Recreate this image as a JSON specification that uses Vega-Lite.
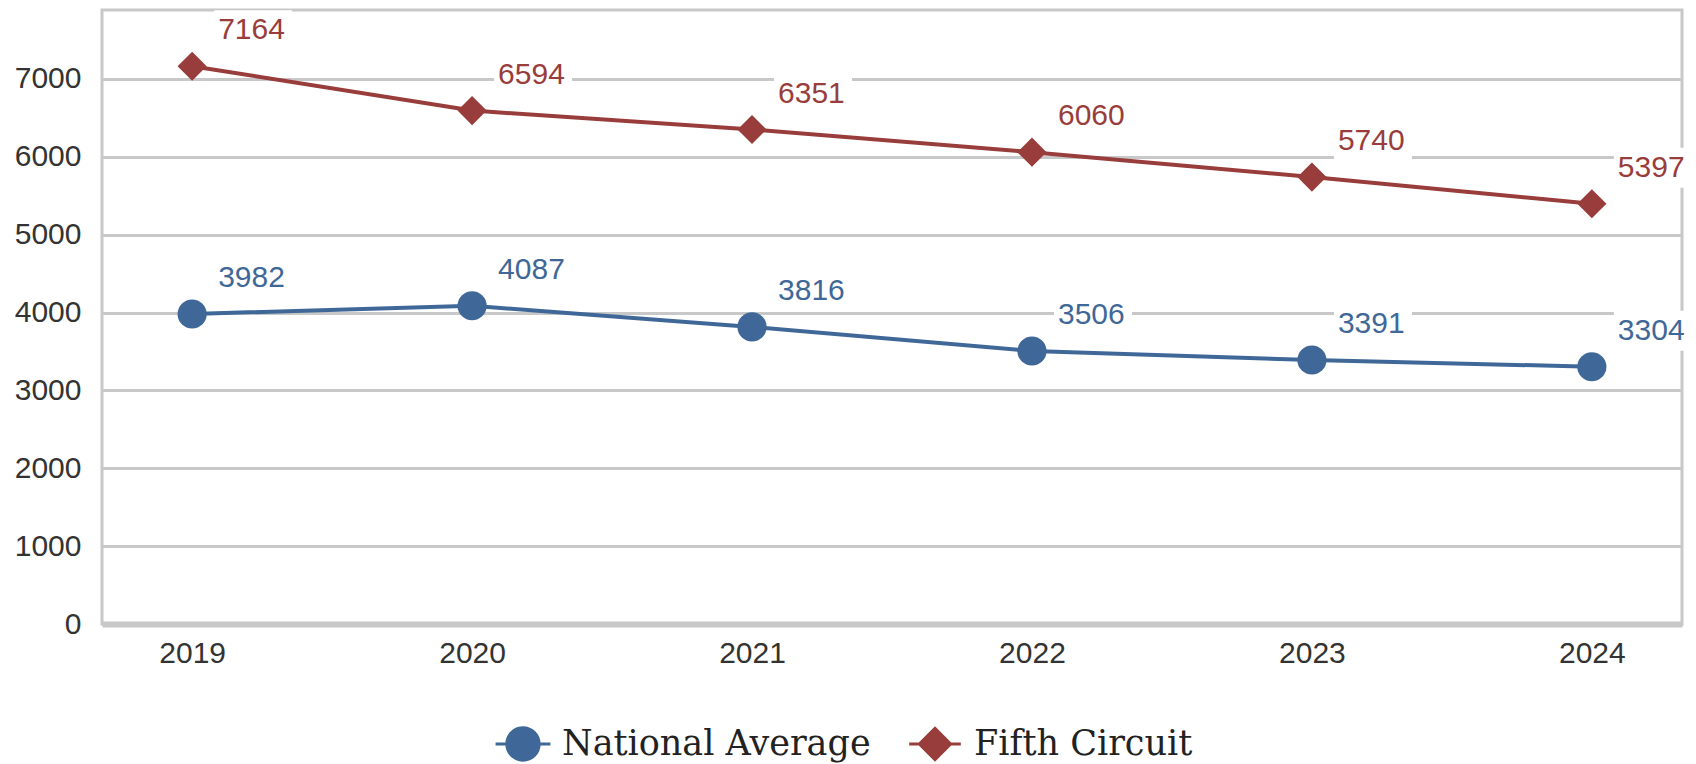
{
  "$schema": "https://vega.github.io/schema/vega-lite/v6.json",
  "width": 1580,
  "height": 614,
  "autosize": {"type": "none"},
  "padding": {"left": 102, "top": 10, "right": 14, "bottom": 140},
  "background": "white",
  "config": {
    "view": {"stroke": "#c8c8c8", "strokeWidth": 3},
    "font": "Liberation Sans"
  },
  "data": {
    "values": [
      {"year": "2019", "series": "National Average", "value": 3982},
      {"year": "2020", "series": "National Average", "value": 4087},
      {"year": "2021", "series": "National Average", "value": 3816},
      {"year": "2022", "series": "National Average", "value": 3506},
      {"year": "2023", "series": "National Average", "value": 3391},
      {"year": "2024", "series": "National Average", "value": 3304},
      {"year": "2019", "series": "Fifth Circuit", "value": 7164},
      {"year": "2020", "series": "Fifth Circuit", "value": 6594},
      {"year": "2021", "series": "Fifth Circuit", "value": 6351},
      {"year": "2022", "series": "Fifth Circuit", "value": 6060},
      {"year": "2023", "series": "Fifth Circuit", "value": 5740},
      {"year": "2024", "series": "Fifth Circuit", "value": 5397}
    ]
  },
  "encoding": {
    "x": {
      "field": "year",
      "type": "ordinal",
      "scale": {"type": "point", "padding": 0.322},
      "axis": {
        "title": null,
        "labelAngle": 0,
        "ticks": false,
        "grid": false,
        "domainColor": "#c8c8c8",
        "domainWidth": 6,
        "labelFontSize": 30,
        "labelFont": "Liberation Sans",
        "labelColor": "#333333",
        "labelPadding": 14
      }
    },
    "y": {
      "field": "value",
      "type": "quantitative",
      "scale": {"domain": [0, 7886], "nice": false, "zero": true},
      "axis": {
        "title": null,
        "values": [0, 1000, 2000, 3000, 4000, 5000, 6000, 7000],
        "format": "d",
        "ticks": false,
        "domain": false,
        "gridColor": "#c8c8c8",
        "gridWidth": 3,
        "labelFontSize": 30,
        "labelFont": "Liberation Sans",
        "labelColor": "#333333",
        "labelPadding": 21
      }
    },
    "color": {
      "field": "series",
      "type": "nominal",
      "scale": {
        "domain": ["National Average", "Fifth Circuit"],
        "range": ["#3f6898", "#983d3b"]
      }
    }
  },
  "layer": [
    {
      "mark": {"type": "line", "strokeWidth": 4}
    },
    {
      "transform": [{"filter": "datum.series === 'National Average'"}],
      "mark": {"type": "point", "shape": "circle", "filled": true, "opacity": 1, "size": 850}
    },
    {
      "transform": [{"filter": "datum.series === 'Fifth Circuit'"}],
      "mark": {"type": "point", "shape": "diamond", "filled": true, "opacity": 1, "size": 850}
    },
    {
      "mark": {"type": "point", "filled": true, "opacity": 0, "size": 10},
      "encoding": {
        "shape": {
          "field": "series",
          "type": "nominal",
          "scale": {
            "domain": ["National Average", "Fifth Circuit"],
            "range": [
              "M-1,0A1,1 0 1,1 1,0A1,1 0 1,1 -1,0Z M-1.55,-0.09L1.55,-0.09L1.55,0.09L-1.55,0.09Z",
              "M0,-1L1,0L0,1L-1,0Z M-1.46,-0.085L1.46,-0.085L1.46,0.085L-1.46,0.085Z"
            ]
          },
          "legend": {
            "orient": "none",
            "legendX": 403,
            "legendY": 716,
            "direction": "horizontal",
            "title": null,
            "labelFont": "DejaVu Serif",
            "labelFontSize": 35,
            "labelColor": "#222222",
            "labelLimit": 600,
            "symbolSize": 1250,
            "symbolOpacity": 1,
            "symbolStrokeWidth": 0,
            "labelOffset": 21,
            "columnPadding": 38,
            "padding": 0
          }
        }
      }
    },
    {
      "mark": {
        "type": "point",
        "shape": "M-1,-0.513L1,-0.513L1,0.513L-1,0.513Z",
        "filled": true,
        "opacity": 1,
        "size": 6084,
        "xOffset": 61,
        "yOffset": -36,
        "strokeWidth": 0
      },
      "encoding": {"color": {"value": "white"}}
    },
    {
      "mark": {
        "type": "text",
        "align": "left",
        "baseline": "middle",
        "dx": 26,
        "dy": -36,
        "fontSize": 30,
        "font": "Liberation Sans"
      },
      "encoding": {
        "text": {"field": "value", "type": "quantitative", "format": "d"}
      }
    }
  ]
}
